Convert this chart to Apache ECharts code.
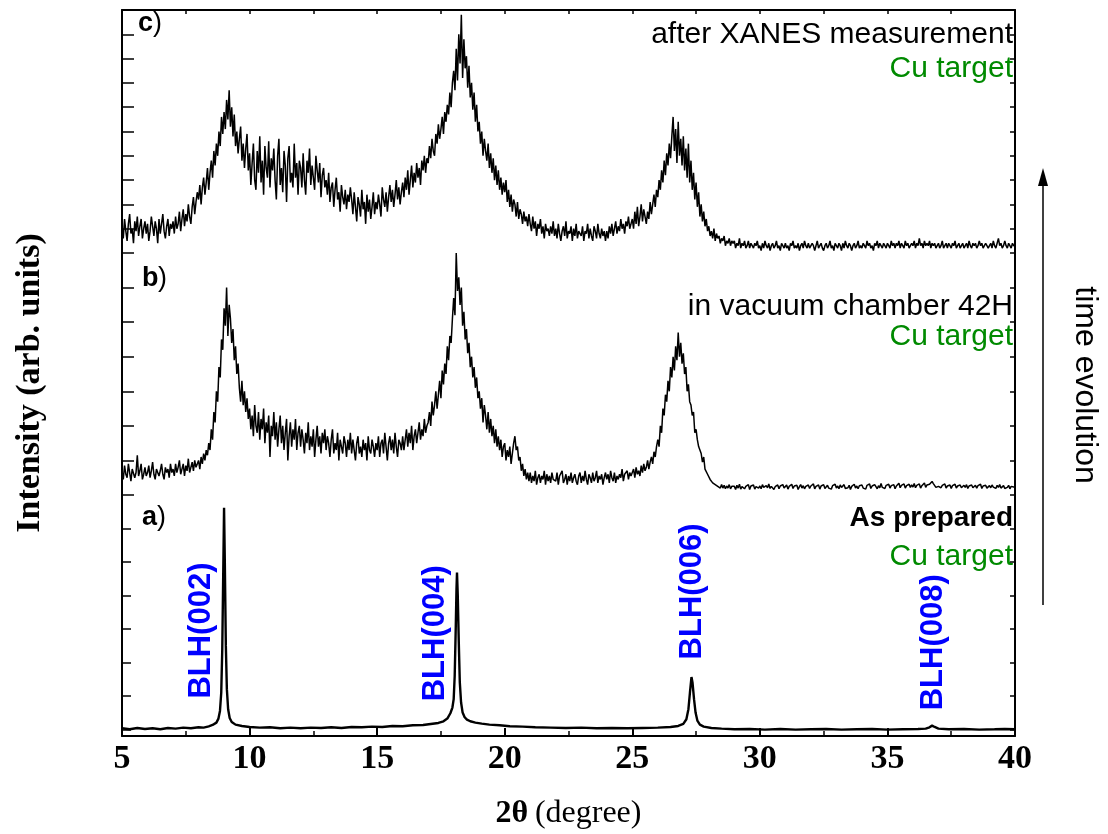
<!DOCTYPE html>
<html>
<head>
<meta charset="utf-8">
<script src="https://cdn.jsdelivr.net/npm/echarts@6/dist/echarts.min.js"></script>
<style>
html, body { margin: 0; padding: 0; background: #fff; }
#chart { width: 1108px; height: 834px; }
</style>
</head>
<body>
<div id="chart"></div>
<script>
// XRD scans (Cu target), 2θ from 5° to 40°, 0.05° step
const scanStart = 5;
const scanStep = 0.05;

// c) after XANES measurement (arb. units)
const afterXanes = [
  11,6,14,9,5,12,16,8,10,4,13,9,15,7,11,14,6,10,13,8,
  12,5,9,15,11,7,13,10,4,14,8,12,16,9,6,11,14,7,12,10,
  13,8,15,10,12,17,9,14,18,11,16,13,20,15,12,19,23,16,21,25,
  22,28,20,27,31,24,29,35,26,33,38,31,42,36,45,40,50,44,56,49,
  58,51,63,55,67,52,60,48,57,44,50,41,47,52,38,45,35,43,49,34,
  41,28,37,45,30,26,42,33,48,29,38,24,44,35,31,46,27,39,34,43,
  30,22,40,47,28,35,25,42,36,21,39,44,29,33,27,45,31,37,24,38,
  35,27,41,30,24,38,33,43,28,36,31,26,40,34,29,37,23,32,35,27,
  30,24,33,21,27,29,19,26,31,22,25,17,28,23,20,26,18,24,21,27,
  22,16,25,19,13,23,20,15,26,18,21,12,24,17,22,14,19,25,16,21,
  18,24,20,15,27,22,19,25,17,23,28,21,26,19,24,30,22,27,20,25,
  29,23,31,26,34,24,30,36,27,33,29,37,31,35,28,38,34,40,33,39,
  37,44,39,47,42,40,49,45,53,47,51,56,49,58,54,61,57,66,60,70,
  75,67,84,71,90,78,98,72,88,76,81,68,77,64,70,59,66,54,61,50,
  54,45,50,40,47,42,38,45,35,41,33,39,30,36,28,34,26,31,24,29,
  25,30,21,26,19,24,17,22,20,15,21,14,18,16,12,17,13,15,11,16,
  12,9,15,10,13,7,12,10,14,8,11,6,12,9,10,7,11,8,13,7,
  10,6,12,8,5,9,11,7,13,6,9,8,11,5,10,7,12,6,9,8,
  7,11,5,9,8,12,6,10,7,5,11,9,6,12,8,6,10,7,9,5,
  9,6,11,8,12,7,10,13,8,11,9,14,10,12,8,13,11,15,10,12,
  14,10,17,12,19,11,15,20,13,18,15,12,17,14,21,16,20,24,19,26,
  23,30,26,34,29,38,32,41,36,45,39,48,56,42,51,37,54,40,47,36,
  48,34,43,31,45,29,38,26,33,22,29,19,25,15,20,13,17,11,14,9,
  11,7,9,6,10,5,8,6,7,4,6,5,7,3,5,4,6,3,5,4,
  5,2,4,3,6,2,4,3,5,2,3,5,2,4,3,2,4,3,5,2,
  3,1,4,2,5,3,2,4,1,3,4,2,3,5,2,3,1,4,3,2,
  4,2,3,1,4,3,5,2,3,2,4,1,3,4,2,5,3,2,4,2,
  2,4,3,1,3,5,2,3,4,2,1,3,4,2,3,5,2,3,1,4,
  3,2,4,3,1,4,2,5,3,2,4,3,1,3,4,2,3,5,2,3,
  2,4,3,2,5,3,4,2,3,1,4,3,5,2,4,3,2,4,3,2,
  4,3,2,5,3,4,2,4,3,5,2,4,3,2,5,3,4,2,3,4,
  3,5,2,4,3,6,3,4,2,5,3,4,3,5,2,4,3,4,2,3,
  4,2,3,5,2,3,4,2,4,3,2,4,3,5,2,3,4,2,3,4,
  2,3,4,2,5,3,2,4,3,4,2,3,5,3,4,2,3,4,3,2,
  3,4,2,5,3,2,4,6,3,4,2,3,5,3,2,4,3,2,4,3,
  3
];

// b) in vacuum chamber 42H (arb. units)
const inVacuum = [
  7,4.5,8.5,6,5,9,6.5,4,7.5,8,5,6.5,11.5,5.5,7,9,4.5,6,8,5.5,
  6.5,8.5,5,7,9.5,6,4.5,7.5,8,5.5,7,9,6,4.5,8,6.5,7.5,5,9,6.5,
  7.5,5.5,9,6.5,8,10,6,7.5,9,5.5,8.5,7,10.5,6.5,8,9.5,7,10,8,9,
  10,7.5,11,9,12,10,13,11.5,15,13,19,16,24,21,30,27,37,34,45,42,
  54,49,60,46,55,51,44,48,39,43,35,38,31,27,33,26,30,24,28,22,
  25,19,23,17,26,20,18,24,16,22,19,25,15,21,18,23,11,20,17,24,
  16,21,14,19,23,15,20,13,18,22,10,17,21,14,19,16,22,13,18,20,
  14,19,16,12,18,15,21,13,17,14,19,11,16,20,14,17,12,18,15,19,
  13,17,15,11,16,19,12,15,13,18,10,16,14,12,17,15,11,16,13,18,
  12,16,13,10,15,17,12,14,11,16,13,15,10,17,13,12,16,14,11,15,
  13,17,11,15,16,12,18,14,10,15,17,13,16,12,18,14,11,16,15,13,
  17,13,16,19,14,18,15,20,13,17,19,15,18,21,16,19,17,22,18,20,
  21,24,20,27,23,26,30,25,29,33,28,36,32,38,35,43,39,46,44,51,
  57,52,70,59,63,55,60,49,53,45,48,41,44,37,40,34,37,31,34,28,
  30,25,28,21,26,23,19,24,18,22,17,20,15,19,14,17,13,16,11,14,
  15,10,13,11,14,9,12,15,17,13,14,10,11,7,9,5.5,7.5,4.5,6.5,4,
  6.5,3.5,5.5,4,7,3,5,6,3.5,5.5,4.5,7,3,6,4,5.5,3.5,6.5,4.5,5,
  4,6.5,3,5.5,5,7,3.5,4.5,6,3,5.5,4,6.5,3.5,5,6,4,3,5.5,6.5,
  3.5,5.5,4,7,4.5,3,6,5,3.5,6.5,4,5,7,3.5,5.5,4.5,6,3,5,6.5,
  4.5,6,3.5,7,5,4,6.5,3.5,5.5,4.5,6,5,7.5,4,6,5.5,7,4.5,6.5,5.5,
  6,7.5,5,8,6,7,5.5,8.5,6.5,9,7,8,10,7.5,9.5,11,9,12.5,11,14,
  16,14,20,18,25,23,29,27,33,30,37,34,40,36,43,39,47,40,44,38,
  41,35,37,30,32,27,26,23,24,18,19,16,14,13,12,9.5,11,7.5,8,6,
  5.5,4.5,5,3.5,4,3,3.5,2.5,3,2,3,2,2.8,1.8,2.6,2,3,1.8,2.5,2,
  2.5,1.6,2.8,2,3.1,1.7,2.4,2.9,1.8,2.5,2.1,3,1.6,2.6,2.2,2.9,1.7,2.4,2.8,2,
  2.6,1.8,3,2.2,1.7,2.7,2.1,3.2,1.9,2.5,2.8,1.6,2.4,2.1,2.9,1.8,2.6,2.2,3,2,
  2.3,2.9,1.7,2.5,2.1,3.1,1.9,2.6,2.2,2.8,1.6,2.4,3,2,2.7,1.8,2.5,2.2,2.9,1.9,
  2.6,2.1,3.2,1.8,2.5,2.3,2.9,1.7,2.6,2.2,3,1.9,2.4,2.8,2,2.5,1.7,2.7,2.3,3.1,
  2,2.6,1.8,2.9,2.2,2.5,3,1.9,2.4,2.1,2.8,1.6,2.5,2.3,3.1,2,2.6,1.8,2.7,2.2,
  2.9,2,2.5,1.7,2.8,2.3,3.2,1.9,2.6,2.2,3,2.4,1.8,2.7,2.1,3.3,2.2,2.6,1.9,2.8,
  2.4,3.1,2,2.7,2.2,3,1.8,2.6,2.4,3.4,2.1,2.8,2.3,3.2,2,2.7,2.5,3.1,2.2,2.9,
  2.3,3.3,2.1,2.8,2.5,3.2,2,2.7,2.4,3.5,2.2,2.9,2.6,3.1,3.4,3.9,3.3,3.8,2.2,2.7,
  2.5,3,2.1,2.8,2.3,3.2,2,2.6,2.4,2.9,1.9,2.7,2.2,3.1,2,2.6,2.3,2.9,2.1,2.5,
  2.8,2.2,3,1.9,2.6,2.3,2.9,2.1,2.5,2.8,2,2.7,2.3,3.1,1.9,2.6,2.2,2.8,2,2.5,
  2.7,2.1,2.9,2.3,2.6,1.9,2.8,2.2,3,2,2.5,2.7,1.9,2.4,2.2,2.8,1.8,2.5,2.1,2.3,
  2.2
];

// a) as prepared: [2θ, intensity]
const asPrepared = [
  [5.0,2.3],[5.3,2.0],[5.6,2.4],[5.9,2.1],[6.2,2.3],[6.5,2.0],[6.8,2.4],[7.1,2.2],
  [7.4,2.5],[7.7,2.3],[8.0,2.6],[8.2,2.5],[8.4,2.9],[8.55,3.3],[8.7,4.0],[8.78,5.2],
  [8.84,7.5],[8.89,13],[8.93,26],[8.97,50],[9.0,68.2],[9.03,52],[9.07,27],[9.11,14],
  [9.16,8],[9.22,5.4],[9.3,4.2],[9.45,3.4],[9.7,3.0],[10.0,2.7],[10.4,2.5],[10.8,2.6],
  [11.2,2.3],[11.6,2.5],[12.0,2.3],[12.4,2.5],[12.8,2.4],[13.2,2.6],[13.6,2.4],[14.0,2.7],
  [14.4,2.6],[14.8,2.8],[15.2,2.7],[15.6,3.0],[16.0,2.9],[16.4,3.2],[16.8,3.3],[17.1,3.6],
  [17.4,3.9],[17.6,4.4],[17.75,5.2],[17.87,6.8],[17.95,8.5],[18.0,11],[18.04,18],[18.08,32],
  [18.11,44],[18.13,48.8],[18.16,42],[18.2,28],[18.24,16],[18.29,10],[18.35,7],[18.43,5.6],
  [18.52,4.9],[18.65,4.4],[18.85,4.0],[19.1,3.7],[19.4,3.4],[19.8,3.2],[20.2,2.9],[20.7,2.8],
  [21.2,2.6],[21.8,2.5],[22.4,2.4],[23.0,2.5],[23.6,2.3],[24.2,2.4],[24.8,2.3],[25.4,2.4],
  [26.0,2.5],[26.5,2.7],[26.8,3.0],[27.0,3.6],[27.12,5],[27.2,8],[27.26,13],[27.32,17.6],
  [27.36,16],[27.42,11],[27.48,7],[27.55,4.6],[27.65,3.4],[27.8,2.8],[28.1,2.4],[28.5,2.2],
  [29.0,2.0],[29.6,2.1],[30.2,1.9],[30.8,2.1],[31.4,1.9],[32.0,2.0],[32.6,2.1],[33.2,1.9],
  [33.8,2.0],[34.4,2.1],[35.0,1.9],[35.6,2.0],[36.2,2.1],[36.5,2.2],[36.65,2.6],[36.75,3.1],
  [36.85,2.7],[37.0,2.2],[37.4,2.0],[38.0,2.1],[38.6,1.9],[39.2,2.0],[39.6,2.1],[40.0,2.0]
];

// Bragg reflections of the layered hydroxide
const peakNames = ['BLH(002)', 'BLH(004)', 'BLH(006)', 'BLH(008)'];

const toScan = vals => vals.map((v, i) => [+(scanStart + i * scanStep).toFixed(2), v]);

const black = '#000';
const green = '#008a00';
const blue = '#0000ff';
const sans = '"Liberation Sans", Arial, sans-serif';
const serif = '"Liberation Serif", "Times New Roman", serif';

const L = 122, R = 1015, W = 1108;
const panels = [
  { top: 10, height: 243 },   // c
  { top: 253, height: 242 },  // b
  { top: 495, height: 241 }   // a
];

function leftAxis(grid, max, tickLen, extra) {
  return Object.assign({
    gridIndex: grid, type: 'value', min: 0, max: max, interval: 10, position: 'left',
    axisLine: { show: true, onZero: false, lineStyle: { color: black, width: 2 } },
    axisTick: { show: true, inside: true, length: tickLen, lineStyle: { color: black, width: 1.5 } },
    axisLabel: { show: false }, splitLine: { show: false }
  }, extra || {});
}
function rightAxis(grid, max, extra) {
  return Object.assign({
    gridIndex: grid, type: 'value', min: 0, max: max, interval: 10, position: 'right',
    axisLine: { show: true, onZero: false, lineStyle: { color: black, width: 2 } },
    axisTick: { show: true, inside: true, length: 5, lineStyle: { color: black, width: 1.5 } },
    axisLabel: { show: false }, splitLine: { show: false }
  }, extra || {});
}

const panelATicks = [2, 12, 22, 32, 42, 52, 62, 72];

const chart = echarts.init(document.getElementById('chart'), null, { renderer: 'canvas' });

const option = {
  animation: false,
  backgroundColor: '#fff',
  grid: panels.map(p => ({ left: L, right: W - R, top: p.top, height: p.height })),
  xAxis: [
    {
      gridIndex: 0, type: 'value', min: 5, max: 40, interval: 2.5, position: 'top',
      axisLine: { show: true, onZero: false, lineStyle: { color: black, width: 2 } },
      axisTick: { show: true, inside: true, length: 4, lineStyle: { color: black, width: 1.5 } },
      axisLabel: { show: false }, splitLine: { show: false }
    },
    { gridIndex: 1, type: 'value', min: 5, max: 40, show: false },
    {
      gridIndex: 2, type: 'value', min: 5, max: 40, interval: 5, position: 'bottom',
      axisLine: { show: true, onZero: false, lineStyle: { color: black, width: 2 } },
      axisTick: { show: true, inside: true, length: 8, lineStyle: { color: black, width: 2 } },
      minorTick: { show: true, splitNumber: 2, length: 5, lineStyle: { color: black, width: 1.5 } },
      axisLabel: { color: black, fontFamily: serif, fontWeight: 'bold', fontSize: 34, margin: 6 },
      splitLine: { show: false },
      name: '{b|2θ}  {r|(degree)}',
      nameLocation: 'middle', nameGap: 62,
      nameTextStyle: {
        rich: {
          b: { fontFamily: serif, fontWeight: 'bold', fontSize: 32, color: black },
          r: { fontFamily: serif, fontSize: 32, color: black }
        }
      }
    }
  ],
  yAxis: [
    leftAxis(0, 100, 12),
    rightAxis(0, 100),
    leftAxis(1, 70, 12),
    rightAxis(1, 70),
    leftAxis(2, 72, 9, {
      axisTick: { show: true, inside: true, length: 9, customValues: panelATicks, lineStyle: { color: black, width: 1.5 } }
    }),
    rightAxis(2, 72, {
      axisTick: { show: true, inside: true, length: 5, customValues: panelATicks, lineStyle: { color: black, width: 1.5 } }
    })
  ],
  series: [
    {
      name: 'after XANES measurement', type: 'line', xAxisIndex: 0, yAxisIndex: 0,
      data: toScan(afterXanes), symbol: 'none', silent: true,
      lineStyle: { color: black, width: 1.5 }
    },
    {
      name: 'in vacuum chamber 42H', type: 'line', xAxisIndex: 1, yAxisIndex: 2,
      data: toScan(inVacuum), symbol: 'none', silent: true,
      lineStyle: { color: black, width: 1.5 }
    },
    {
      name: 'As prepared', type: 'line', xAxisIndex: 2, yAxisIndex: 4,
      data: asPrepared, symbol: 'none', silent: true,
      lineStyle: { color: black, width: 2.4 },
      markPoint: {
        silent: true,
        symbol: 'rect', symbolSize: 1,
        itemStyle: { color: 'rgba(0,0,0,0)' },
        label: {
          show: true, position: 'inside', rotate: 90,
          color: blue, fontFamily: sans, fontWeight: 'bold', fontSize: 31,
          formatter: p => p.name
        },
        data: [
          { name: peakNames[0], coord: [8.1, 31.5] },
          { name: peakNames[1], coord: [17.27, 30.7] },
          { name: peakNames[2], coord: [27.34, 43.2] },
          { name: peakNames[3], coord: [36.79, 28.0] }
        ]
      }
    }
  ],
  graphic: [
    // panel tags
    { type: 'text', x: 138, y: 24, style: { text: 'c', font: 'bold 27px ' + sans, fill: black, verticalAlign: 'middle' } },
    { type: 'text', x: 153, y: 24, style: { text: ')', font: '27px ' + sans, fill: black, verticalAlign: 'middle' } },
    { type: 'text', x: 142, y: 279, style: { text: 'b', font: 'bold 27px ' + sans, fill: black, verticalAlign: 'middle' } },
    { type: 'text', x: 158, y: 279, style: { text: ')', font: '27px ' + sans, fill: black, verticalAlign: 'middle' } },
    { type: 'text', x: 142, y: 518, style: { text: 'a', font: 'bold 27px ' + sans, fill: black, verticalAlign: 'middle' } },
    { type: 'text', x: 157, y: 518, style: { text: ')', font: '27px ' + sans, fill: black, verticalAlign: 'middle' } },
    // sample descriptions
    { type: 'text', x: 1013, y: 35, style: { text: 'after XANES measurement', font: '30px ' + sans, fill: black, align: 'right', verticalAlign: 'middle' } },
    { type: 'text', x: 1013, y: 69, style: { text: 'Cu target', font: '30px ' + sans, fill: green, align: 'right', verticalAlign: 'middle' } },
    { type: 'text', x: 1013, y: 307, style: { text: 'in vacuum chamber 42H', font: '30px ' + sans, fill: black, align: 'right', verticalAlign: 'middle' } },
    { type: 'text', x: 1013, y: 337, style: { text: 'Cu target', font: '30px ' + sans, fill: green, align: 'right', verticalAlign: 'middle' } },
    { type: 'text', x: 1013, y: 518, style: { text: 'As prepared', font: 'bold 28px ' + sans, fill: black, align: 'right', verticalAlign: 'middle' } },
    { type: 'text', x: 1013, y: 557, style: { text: 'Cu target', font: '30px ' + sans, fill: green, align: 'right', verticalAlign: 'middle' } },
    // y title
    { type: 'text', x: 30, y: 383, rotation: Math.PI / 2, style: { text: 'Intensity (arb. units)', font: 'bold 34px ' + serif, fill: black, align: 'center', verticalAlign: 'middle' } },
    // time arrow
    { type: 'line', shape: { x1: 1043, y1: 605, x2: 1043, y2: 184 }, style: { stroke: black, lineWidth: 1.5 } },
    { type: 'polygon', shape: { points: [[1043, 168], [1038, 186], [1048, 186]] }, style: { fill: black } },
    { type: 'text', x: 1085, y: 385, rotation: -Math.PI / 2, style: { text: 'time evolution', font: '32px ' + sans, fill: black, align: 'center', verticalAlign: 'middle' } }
  ]
};

chart.setOption(option);
</script>
</body>
</html>
